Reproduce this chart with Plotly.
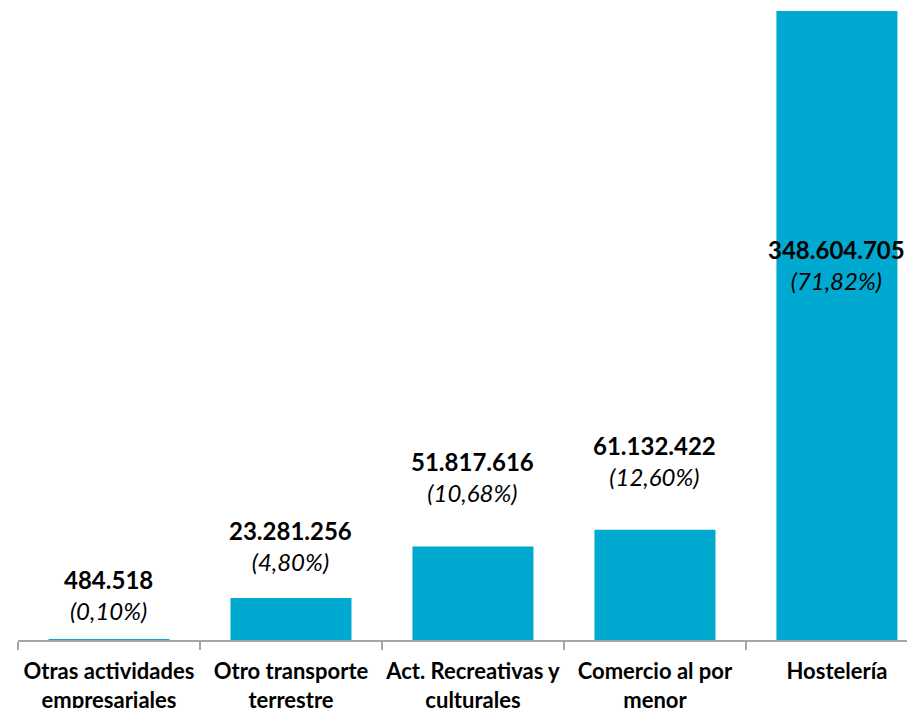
import plotly.graph_objects as go

# datos
categorias = ["Otras actividades<br>empresariales", "Otro transporte<br>terrestre",
              "Act. Recreativas y<br>culturales", "Comercio al por<br>menor", "Hostelería"]
valores = [484518, 23281256, 51817616, 61132422, 348604705]
etiquetas_valor = ["484.518", "23.281.256", "51.817.616", "61.132.422", "348.604.705"]
etiquetas_pct = ["(0,10%)", "(4,80%)", "(10,68%)", "(12,60%)", "(71,82%)"]

# desplazamiento (px) del centro de la etiqueta respecto al tope de la barra
desplaz = [44, 52, 70, 69, -254]

FUENTE = "Lato"
COLOR_BARRA = "#00A9D0"

fig = go.Figure(go.Bar(
    x=categorias,
    y=valores,
    marker=dict(color=COLOR_BARRA, line=dict(width=0)),
    hoverinfo="skip",
))

for i, (c, v, ev, ep) in enumerate(zip(categorias, valores, etiquetas_valor, etiquetas_pct)):
    fig.add_annotation(
        x=c, y=v, yref="y", xref="x",
        text=f"<b>{ev}</b><br><i>{ep}</i>",
        showarrow=False, yanchor="middle", yshift=desplaz[i],
        font=dict(family=FUENTE, size=24, color="#000000"),
        align="center",
    )

fig.update_layout(
    width=907, height=708,
    margin=dict(l=18, r=0, t=0, b=68),
    paper_bgcolor="white", plot_bgcolor="white",
    bargap=0.335,
    showlegend=False,
    font=dict(family=FUENTE, color="#000000"),
    xaxis=dict(
        type="category",
        tickmode="array",
        tickvals=categorias,
        ticktext=[f"<b>{c}</b>" for c in categorias],
        range=[-0.5, 4.385],
        automargin=False,
        showline=True, linecolor="#A6A6A6", linewidth=2,
        ticks="outside", tickson="boundaries", ticklen=8, tickwidth=2, tickcolor="#A6A6A6",
        tickfont=dict(family=FUENTE, size=22, color="#000000"),
        ticklabelstandoff=11,
        showgrid=False, zeroline=False, fixedrange=True,
        tickangle=0,
    ),
    yaxis=dict(
        range=[0, 354.7e6], automargin=False,
        visible=False, showgrid=False, zeroline=False,
    ),
)

# quitar el margen por defecto del <body> y la barra de herramientas
fig.write_html("out.html", config={"displayModeBar": False},
               post_script="document.body.style.margin='0';")
